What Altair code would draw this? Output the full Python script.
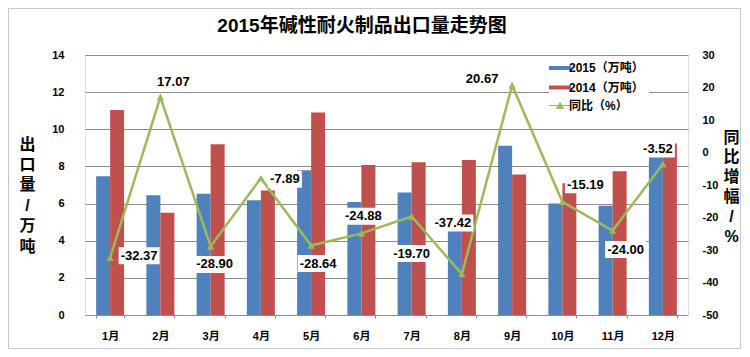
import altair as alt
import pandas as pd

# ---------------- data ----------------
months = ["1月", "2月", "3月", "4月", "5月", "6月", "7月", "8月", "9月", "10月", "11月", "12月"]
v2015 = [7.47, 6.45, 6.53, 6.18, 7.79, 6.08, 6.60, 5.23, 9.11, 6.01, 5.88, 8.91]
v2014 = [11.04, 5.51, 9.19, 6.71, 10.91, 8.08, 8.22, 8.35, 7.56, 7.09, 7.74, 9.24]
yoy = [-32.37, 17.07, -28.90, -7.89, -28.64, -24.88, -19.70, -37.42, 20.67, -15.19, -24.00, -3.52]
series_names = ["2015（万吨）", "2014（万吨）", "同比（%）"]
left_ticks = [0, 2, 4, 6, 8, 10, 12, 14]
right_ticks = [-50, -40, -30, -20, -10, 0, 10, 20, 30]
title_text = "2015年碱性耐火制品出口量走势图"
left_title = ["出", "口", "量", "/", "万", "吨"]
right_title = ["同", "比", "增", "幅", "/", "%"]

# label placement (pixel offsets from the point), styling only
LABEL_OFFSETS = {
    "1月": (29, -2), "2月": (13, -15), "3月": (4, 18), "4月": (24, 1),
    "5月": (7, 18), "6月": (2, -17), "7月": (0, 37), "8月": (-9, -51),
    "9月": (-30, -6), "10月": (23, -17), "11月": (13, 19), "12月": (-5, -15),
}

BLUE, RED, GREEN = "#4F81BD", "#C0504D", "#9BBB59"
GRID = "#8C8C8C"
FONT = "Liberation Sans, Noto Sans CJK SC"

bar_df = pd.DataFrame({
    "month": months * 2,
    "series": [series_names[0]] * 12 + [series_names[1]] * 12,
    "value": v2015 + v2014,
})
line_df = pd.DataFrame({
    "month": months,
    "yoy": yoy,
    "series": [series_names[2]] * 12,
    "label": [f"{v:.2f}" for v in yoy],
})

X = alt.X(
    "month:N", sort=months,
    scale=alt.Scale(paddingInner=0.443, paddingOuter=0.2215),
    axis=alt.Axis(title=None, labelAngle=0, labelFont=FONT, labelFontSize=11,
                  labelFontWeight="bold", labelColor="black", domain=False,
                  ticks=True, tickBand="extent", tickSize=3, tickColor=GRID,
                  labelPadding=12, grid=False),
)

YL = alt.Y(
    "value:Q", scale=alt.Scale(domain=[0, 14], nice=False, zero=True),
    axis=alt.Axis(values=left_ticks, title=left_title, titleAngle=0, titleX=-58, titleY=89,
                  titleAlign="center", titleBaseline="middle", titleFontSize=16,
                  titleFont=FONT, titleFontWeight="bold", titleLineHeight=20.4,
                  titleColor="black", labelFont=FONT, labelFontSize=11,
                  labelFontWeight="bold", labelColor="black", labelPadding=21,
                  ticks=False, tickSize=0, domain=False, grid=True,
                  gridColor=GRID, gridWidth=1),
)

YR = alt.Y(
    "yoy:Q", scale=alt.Scale(domain=[-50, 30], nice=False, zero=False),
    axis=alt.Axis(orient="right", values=right_ticks, labelExpr="'' + datum.value",
                  title=right_title, titleAngle=0, titleX=43, titleY=82,
                  titleAlign="center", titleBaseline="middle", titleFontSize=16,
                  titleFont=FONT, titleFontWeight="bold", titleLineHeight=19.8,
                  titleColor="black", labelFont=FONT, labelFontSize=11,
                  labelFontWeight="bold", labelColor="black", labelPadding=14,
                  ticks=False, tickSize=0, domain=False, grid=False),
)

RECT_PATH = "M-2,-0.36H2V0.36H-2Z"
LINETRI_PATH = "M-2,-0.07H2V0.07H-2Z M-0.8,0.65L0,-0.7L0.8,0.65Z"

legend_common = dict(
    orient="none", title=None, symbolSize=121, labelFont=FONT, labelFontSize=12,
    labelFontWeight="bold", labelColor="black", labelOffset=3, fillColor="white",
    padding=5, symbolStrokeWidth=0, rowPadding=7.5,
)

bars = alt.Chart(bar_df).mark_bar().encode(
    x=X,
    xOffset=alt.XOffset("series:N", sort=series_names[:2],
                        scale=alt.Scale(domain=series_names[:2])),
    y=YL,
    color=alt.Color("series:N", scale=alt.Scale(domain=series_names[:2], range=[BLUE, RED]),
                    legend=alt.Legend(legendX=464, legendY=2, symbolType=RECT_PATH,
                                      **legend_common)),
)

line = alt.Chart(line_df).mark_line(color=GREEN, strokeWidth=2.5).encode(x=X, y=YR)

points = alt.Chart(line_df).mark_point(
    filled=True, shape="triangle-up", size=55, color=GREEN, strokeWidth=0
).encode(
    x=X, y=YR,
    opacity=alt.Opacity("series:N", scale=alt.Scale(domain=[series_names[2]], range=[1]),
                        legend=alt.Legend(legendX=464, legendY=39.5, symbolType=LINETRI_PATH,
                                          symbolFillColor=GREEN, **legend_common)),
)

label_layers = []
for m, txt in zip(months, line_df["label"]):
    dx, dy = LABEL_OFFSETS[m]
    w = 7 * len(txt) - 1
    h = 17
    box_path = f"M{-w/10:.2f},{-h/10:.2f}H{w/10:.2f}V{h/10:.2f}H{-w/10:.2f}Z"
    sel = alt.datum.month == m
    box = alt.Chart(line_df).transform_filter(sel).mark_point(
        shape=box_path, size=100, filled=True, color="white", opacity=1,
        strokeWidth=0, xOffset=dx, yOffset=dy,
    ).encode(x=X, y=YR)
    txt_mark = alt.Chart(line_df).transform_filter(sel).mark_text(
        font=FONT, fontSize=13, fontWeight="bold", color="black",
        dx=dx, dy=dy, baseline="middle", align="center",
    ).encode(x=X, y=YR, text="label:N")
    label_layers += [box, txt_mark]

frame = alt.Chart(alt.Data(values=[{"a": 1}])).mark_rect(
    fill="white", fillOpacity=0, stroke="#C8C8C8", strokeWidth=1
).encode(
    x=alt.value(-76.5), x2=alt.value(655.5), y=alt.value(-46.5), y2=alt.value(293.5)
)

right_layer = alt.layer(line, points, *label_layers)

chart = alt.layer(frame, bars, right_layer).resolve_scale(
    y="independent", color="independent", opacity="independent"
).properties(
    width=603, height=260,
    autosize=alt.AutoSizeParams(type="none"),
    padding={"left": 77, "top": 47, "right": 53, "bottom": 34},
    title=alt.TitleParams(title_text, font=FONT, fontSize=19, fontWeight="bold",
                          color="black", anchor="middle", frame="group", dx=-24.5,
                          offset=-36.5, baseline="middle"),
).configure_view(stroke=GRID, strokeWidth=1).configure(background="white")

chart.save("out.html", embed_options={"renderer": "svg", "actions": False})
